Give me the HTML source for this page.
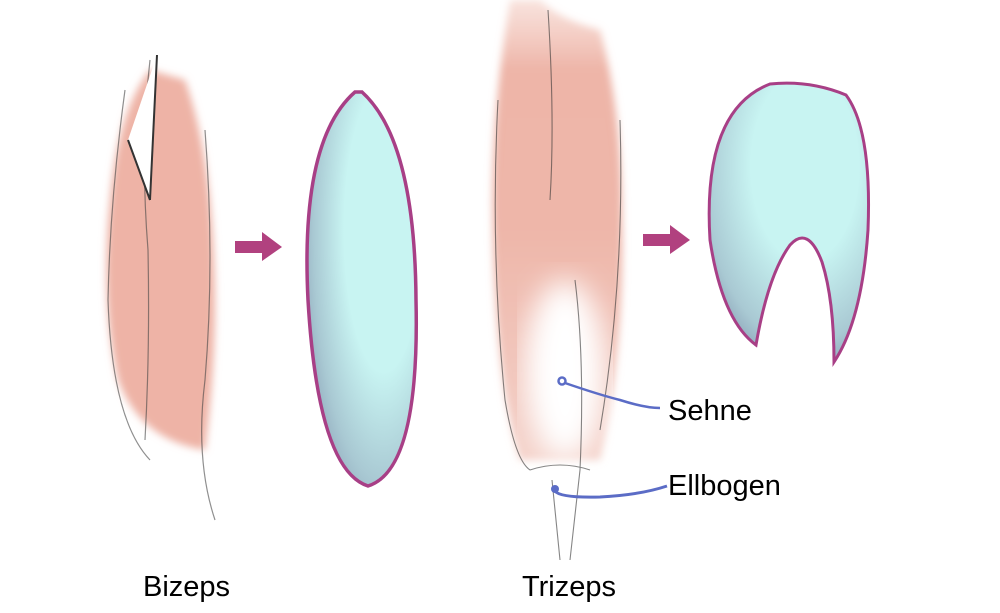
<!DOCTYPE html>
<html><head><meta charset="utf-8"><style>
body{margin:0;background:#fff}
svg{display:block}
text{font-family:"Liberation Sans",sans-serif;font-size:29px;fill:#000}
</style></head><body>
<svg width="1000" height="613" viewBox="0 0 1000 613">
<defs>
<radialGradient id="cy" cx="0.7" cy="0.35" r="0.8">
<stop offset="0.45" stop-color="#c8f4f2"/><stop offset="0.8" stop-color="#a9c9d3"/><stop offset="1" stop-color="#8fa7bb"/>
</radialGradient>
<radialGradient id="cy2" cx="0.6" cy="0.3" r="0.75">
<stop offset="0.45" stop-color="#c8f4f2"/><stop offset="0.85" stop-color="#a9c9d3"/><stop offset="1" stop-color="#8ea6ba"/>
</radialGradient>
<linearGradient id="tri" x1="0" y1="0" x2="0" y2="1">
<stop offset="0" stop-color="#f2c6bb" stop-opacity="0.5"/><stop offset="0.15" stop-color="#eeb5a8"/><stop offset="0.5" stop-color="#eeb6a9"/><stop offset="1" stop-color="#f4d2ca"/>
</linearGradient>
<filter id="bl"><feGaussianBlur stdDeviation="4"/></filter>
<filter id="bl2"><feGaussianBlur stdDeviation="14"/></filter>
</defs>
<!-- Bizeps -->
<path d="M150 70 Q118 110 110 200 Q100 300 118 380 Q140 440 205 450 Q218 350 214 260 Q210 150 185 80 Z" fill="#eeb3a6" filter="url(#bl)"/>
<path d="M125 90 Q110 200 108 300 Q112 420 150 460 M205 130 Q215 260 205 380 Q195 460 215 520 M150 60 Q140 150 148 250 Q150 350 145 440" stroke="#444" stroke-width="1.2" fill="none" opacity="0.6"/>
<path d="M157 55 L150 200 L128 140 Z" fill="#fff"/>
<path d="M157 55 L150 200 M128 140 L150 200" stroke="#333" stroke-width="2" fill="none"/>
<!-- arrow 1 -->
<path d="M235 241 H262 V232 L282 247 L262 261 V253 H235 Z" fill="#b1417f"/>
<!-- ellipse -->
<path d="M355 92 Q300 140 308 300 Q318 470 368 486 Q420 470 416 300 Q415 140 362 92 Z" fill="url(#cy)" stroke="#a83f86" stroke-width="3.5"/>
<!-- Trizeps -->
<path d="M510 0 Q490 120 493 230 Q495 380 520 460 L600 460 Q625 350 622 220 Q622 110 600 30 Q560 20 540 0 Z" fill="url(#tri)" filter="url(#bl)"/>
<ellipse cx="565" cy="370" rx="40" ry="90" fill="#fff" filter="url(#bl2)"/>
<path d="M498 100 Q490 250 505 400 Q515 460 530 470 M620 120 Q625 280 600 430 M548 10 Q555 120 550 200 M575 280 Q585 360 580 470 M530 470 Q560 460 590 470 M552 480 L560 560 M580 470 L570 560" stroke="#333" stroke-width="1.1" fill="none" opacity="0.6"/>
<!-- arrow 2 -->
<path d="M643 234 H670 V225 L690 240 L670 254 V246 H643 Z" fill="#b1417f"/>
<!-- arch -->
<path d="M770 84 Q810 80 846 95 Q872 130 868 230 Q862 320 834 362 Q834 300 822 262 Q808 225 790 245 Q768 275 756 345 Q722 320 710 240 Q702 110 770 84 Z" fill="url(#cy2)" stroke="#a83f86" stroke-width="3"/>
<!-- labels -->
<circle cx="562" cy="381" r="3.5" fill="none" stroke="#5b6cc6" stroke-width="2.5"/>
<path d="M565 383 Q600 395 620 400 Q645 408 660 408" stroke="#5b6cc6" stroke-width="2.5" fill="none"/>
<circle cx="555" cy="489" r="4" fill="#5b6cc6"/>
<path d="M555 491 Q560 498 600 497 Q640 495 667 486" stroke="#5b6cc6" stroke-width="3" fill="none"/>
<text x="668" y="420">Sehne</text>
<text x="668" y="495">Ellbogen</text>
<text x="143" y="596">Bizeps</text>
<text x="522" y="596">Trizeps</text>
</svg>
</body></html>
